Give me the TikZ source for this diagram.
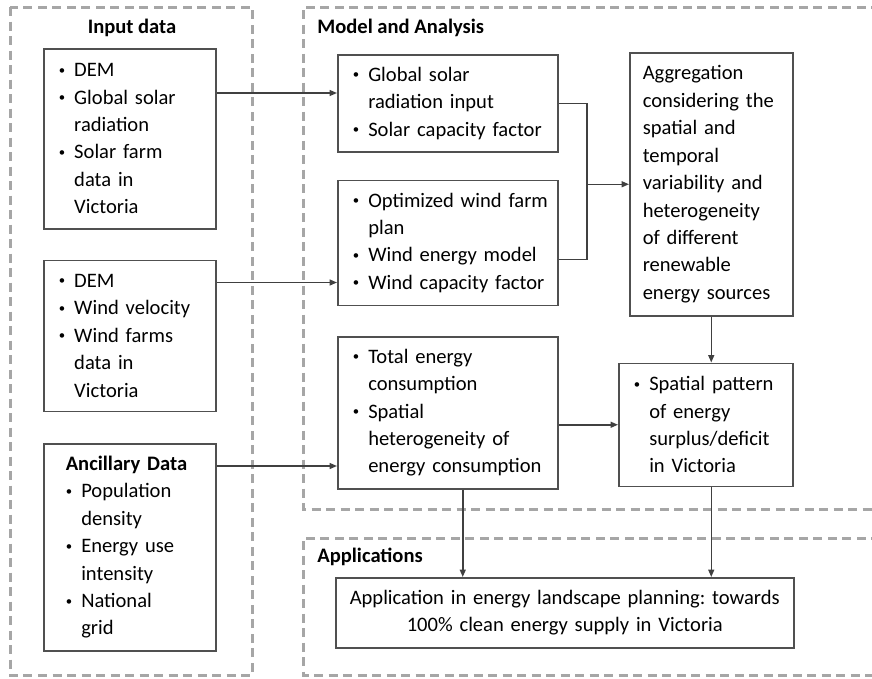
\documentclass[tikz,border=0pt]{standalone}
\usepackage{fontspec}
\setmainfont{Carlito}
\usepackage{graphicx}
\usepackage{tikz}
\usetikzlibrary{
  arrows.meta,
  positioning,
  calc
}
\definecolor{zoneGray}{HTML}{A6A6A6}
\definecolor{boxLine}{HTML}{505050}
\definecolor{flowLine}{HTML}{404040}
\newcommand{\boxfont}{\fontsize{11.7pt}{15.6pt}\selectfont\frenchspacing}
\newcommand{\bul}[1]{\makebox[3.1mm][l]{\raisebox{0.12em}{\scalebox{0.62}{\textbullet}}}\mbox{#1}}
\newcommand{\ind}[1]{\hspace*{3.1mm}\mbox{#1}}
\tikzset{
  databox/.style={
    draw=boxLine, line width=0.3mm, inner xsep=3mm, inner ysep=0pt,
    align=left, font=\boxfont, text=black
  },
  zone/.style={draw=zoneGray, line width=0.6mm, dash pattern=on 1.8mm off 1.1mm},
  zonetitle/.style={font=\boxfont\bfseries, inner sep=0pt},
  flow/.style={-{Triangle[length=1.5mm, width=1.2mm]}, line width=0.3mm, flowLine},
  netline/.style={line width=0.3mm, flowLine}
}
\begin{document}
\begin{tikzpicture}
  \useasboundingbox (0,0) rectangle (174.4mm,-135.6mm);
  % dashed zones
  \draw[zone] (2mm,-1.4mm) rectangle (50.4mm,-135mm);
  \draw[zone] (176mm,-1.4mm) -- (60.6mm,-1.4mm) -- (60.6mm,-101.8mm) -- (176mm,-101.8mm);
  \draw[zone] (176mm,-107.6mm) -- (60.6mm,-107.6mm) -- (60.6mm,-135mm) -- (176mm,-135mm);
  \node[zonetitle] (tinput) at (26.4mm,-5.6mm) {Input data};
  \node[zonetitle, anchor=west] (tmodel) at (63.4mm,-5.6mm) {Model and Analysis};
  \node[zonetitle, anchor=west] (tapp) at (63.4mm,-111.4mm) {Applications};
  % input data
  \node[databox, anchor=north west, text width=28.4mm, minimum height=36mm] (solarin) at (8.6mm,-9.6mm)
    {\bul{DEM}\\\bul{Global solar}\\\ind{radiation}\\\bul{Solar farm}\\\ind{data in}\\\ind{Victoria}};
  \node[databox, below=6mm of solarin, text width=28.4mm, minimum height=30.2mm] (windin)
    {\bul{DEM}\\\bul{Wind velocity}\\\bul{Wind farms}\\\ind{data in}\\\ind{Victoria}};
  \node[databox, below=6.2mm of windin, text width=25.6mm, inner xsep=4.4mm, minimum height=41.4mm] (ancin)
    {\textbf{Ancillary Data}\\\bul{Population}\\\ind{density}\\\bul{Energy use}\\\ind{intensity}\\\bul{National}\\\ind{grid}};
  % model and analysis
  \node[databox, anchor=north west, text width=38mm, minimum height=19.4mm] (solarmod) at (67.4mm,-10.8mm)
    {\bul{Global solar}\\\ind{radiation input}\\\bul{Solar capacity factor}};
  \node[databox, below=5.4mm of solarmod, text width=38mm, minimum height=25mm] (windmod)
    {\bul{Optimized wind farm}\\\ind{plan}\\\bul{Wind energy model}\\\bul{Wind capacity factor}};
  \node[databox, below=6mm of windmod, text width=38mm, minimum height=30.4mm] (consum)
    {\bul{Total energy}\\\ind{consumption}\\\bul{Spatial}\\\ind{heterogeneity of}\\\ind{energy consumption}};
  \node[databox, anchor=north west, text width=27.4mm, inner xsep=2.6mm, minimum height=52.6mm] (agg) at (125.8mm,-10.4mm)
    {Aggregation\\considering the\\spatial and\\temporal\\variability and\\heterogeneity\\of different\\renewable\\energy sources};
  \node[databox, below=9.2mm of agg.south east, anchor=north east, text width=28.8mm, minimum height=24.6mm] (spatial)
    {\bul{Spatial pattern}\\\ind{of energy}\\\ind{surplus/deficit}\\\ind{in Victoria}};
  % applications
  \node[databox, anchor=north west, text width=89.6mm, inner xsep=1mm, minimum height=14mm, align=center] (app) at (67mm,-115.4mm)
    {Application in energy landscape planning: towards\\100\% clean energy supply in Victoria};
  % connectors
  \path ([yshift=-9mm]solarin.north east) coordinate (s1);
  \path ([yshift=-4.6mm]windin.north east) coordinate (w1);
  \path ([yshift=-4.6mm]ancin.north east) coordinate (a1);
  \draw[flow] (s1) -- (s1 -| solarmod.west);
  \draw[flow] (w1) -- (w1 -| windmod.west);
  \draw[flow] (a1) -- (a1 -| consum.west);
  \coordinate (merge) at ([xshift=-8.4mm]agg.west);
  \draw[netline] (solarmod.east) -| (merge);
  \draw[netline] ([yshift=-3.3mm]windmod.east) -| (merge);
  \draw[flow] (merge) -- (agg.west);
  \draw[flow] (agg.south) -- (agg.south |- spatial.north);
  \draw[flow] (spatial.west -| consum.east) -- (spatial.west);
  \path ([xshift=3mm]consum.south) coordinate (c1);
  \draw[flow] (c1) -- (c1 |- app.north);
  \draw[flow] (agg.south |- spatial.south) -- (agg.south |- app.north);
\end{tikzpicture}
\end{document}
